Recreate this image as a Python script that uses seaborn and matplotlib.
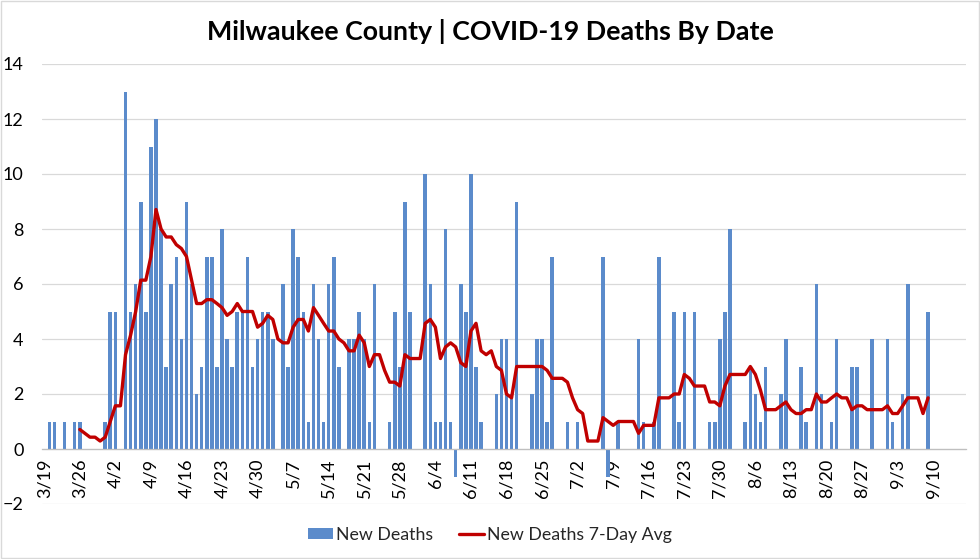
import numpy as np
import pandas as pd
import matplotlib
matplotlib.use("Agg")
import matplotlib.pyplot as plt
import seaborn as sns
from matplotlib.patches import Patch, Rectangle
from matplotlib.lines import Line2D

# ---------------- data (3/19 .. 9/9, one value per day) ----------------
tick_labels = ["3/19", "3/26", "4/2", "4/9", "4/16", "4/23", "4/30", "5/7",
               "5/14", "5/21", "5/28", "6/4", "6/11", "6/18", "6/25", "7/2",
               "7/9", "7/16", "7/23", "7/30", "8/6", "8/13", "8/20", "8/27",
               "9/3", "9/10"]

new_deaths = [
    0, 1, 1, 0, 1, 0, 1,
    1, 0, 0, 0, 0, 1, 5,
    5, 0, 13, 5, 6, 9, 5,
    11, 12, 8, 3, 6, 7, 4,
    9, 6, 2, 3, 7, 7, 3,
    8, 4, 3, 5, 5, 7, 3,
    4, 5, 5, 4, 0, 6, 3,
    8, 7, 5, 1, 6, 4, 1,
    6, 7, 3, 0, 4, 4, 5,
    4, 1, 6, 0, 0, 1, 5,
    3, 9, 5, 0, 0, 10, 6,
    1, 1, 8, 1, -1, 6, 5,
    10, 3, 1, 0, 0, 2, 4,
    4, 2, 9, 0, 0, 2, 4,
    4, 1, 7, 0, 0, 1, 0,
    1, 0, 0, 0, 0, 7, -1,
    0, 1, 0, 0, 0, 4, 1,
    0, 1, 7, 0, 0, 5, 1,
    5, 0, 5, 0, 0, 1, 1,
    4, 5, 8, 0, 0, 1, 3,
    2, 1, 3, 0, 0, 2, 4,
    0, 0, 3, 1, 0, 6, 2,
    0, 1, 4, 0, 0, 3, 3,
    0, 0, 4, 0, 0, 4, 1,
    0, 2, 6, 0, 0, 0, 5,
]

# 7-day average (starts 3/26)
avg_7day = [
    0.71, 0.57, 0.43, 0.43, 0.29, 0.43, 1.00, 1.57, 1.57, 3.43,
    4.14, 5.00, 6.14, 6.14, 7.00, 8.71, 8.00, 7.71, 7.71, 7.43,
    7.29, 7.00, 6.14, 5.29, 5.29, 5.43, 5.43, 5.29, 5.14, 4.86,
    5.00, 5.29, 5.00, 5.00, 5.00, 4.43, 4.57, 4.86, 4.71, 4.00,
    3.86, 3.86, 4.43, 4.71, 4.71, 4.29, 5.14, 4.86, 4.57, 4.29,
    4.29, 4.00, 3.86, 3.57, 3.57, 4.14, 3.86, 3.00, 3.43, 3.43,
    2.86, 2.43, 2.43, 2.29, 3.43, 3.29, 3.29, 3.29, 4.57, 4.71,
    4.43, 3.29, 3.71, 3.86, 3.71, 3.14, 3.00, 4.29, 4.57, 3.57,
    3.43, 3.57, 3.00, 2.86, 2.00, 1.86, 3.00, 3.00, 3.00, 3.00,
    3.00, 3.00, 2.86, 2.57, 2.57, 2.57, 2.43, 1.86, 1.43, 1.29,
    0.29, 0.29, 0.29, 1.14, 1.00, 0.86, 1.00, 1.00, 1.00, 1.00,
    0.57, 0.86, 0.86, 0.86, 1.86, 1.86, 1.86, 2.00, 2.00, 2.71,
    2.57, 2.29, 2.29, 2.29, 1.71, 1.71, 1.57, 2.29, 2.71, 2.71,
    2.71, 2.71, 3.00, 2.71, 2.14, 1.43, 1.43, 1.43, 1.57, 1.71,
    1.43, 1.29, 1.29, 1.43, 1.43, 2.00, 1.71, 1.71, 1.86, 2.00,
    1.86, 1.86, 1.43, 1.57, 1.57, 1.43, 1.43, 1.43, 1.43, 1.57,
    1.29, 1.29, 1.57, 1.86, 1.86, 1.86, 1.29, 1.86,
]

series_names = ["New Deaths", "New Deaths 7-Day Avg"]
title = "Milwaukee County | COVID-19 Deaths By Date"

# ---------------- styling ----------------
BAR = "#5B8BCB"
LINE = "#C00000"
GRID = "#D9D9D9"

sns.set_style("white")
plt.rcParams["font.family"] = ["Lato", "DejaVu Sans"]

n = len(new_deaths)
avg_full = [np.nan] * (n - len(avg_7day)) + avg_7day
df = pd.DataFrame({"day": np.arange(n), "deaths": new_deaths, "avg": avg_full})

W, H = 980, 559
fig = plt.figure(figsize=(W / 100, H / 100), dpi=100)
left, right, top, bottom = 41.7, 966.2, 64, 504
ax = fig.add_axes([left / W, 1 - bottom / H, (right - left) / W, (bottom - top) / H])

sns.barplot(data=df, x="day", y="deaths", native_scale=True, color=BAR,
            saturation=1, width=0.7, errorbar=None, linewidth=0, ax=ax, zorder=2)
sns.lineplot(data=df, x="day", y="avg", color=LINE, linewidth=2.4, ax=ax,
             zorder=3, legend=False)

ax.set_axisbelow(True)
ax.set_xlim(-0.5, 176.5)
ax.set_ylim(-2, 14)
ax.set_yticks(range(-2, 15, 2))
ax.yaxis.grid(True, color=GRID, linewidth=0.9)
ax.xaxis.grid(False)
for s in ["top", "right", "left"]:
    ax.spines[s].set_visible(False)
ax.spines["bottom"].set_position(("data", 0))
ax.spines["bottom"].set_color("#BFBFBF")
ax.spines["bottom"].set_linewidth(0.9)

ax.set_xticks(np.arange(0, 7 * len(tick_labels), 7))
ax.set_xticklabels(tick_labels, rotation=90)
ax.set_xticks(np.arange(-0.5, 7 * len(tick_labels), 7), minor=True)
ax.tick_params(axis="x", which="major", length=0, pad=7, labelsize=13, colors="#000000")
ax.tick_params(axis="x", which="minor", length=4, width=0.9, color="#BFBFBF", direction="out")
ax.tick_params(axis="y", length=0, pad=13, labelsize=13, colors="#000000")
ax.set_xlabel("")
ax.set_ylabel("")

fig.text(0.5, 1 - 32 / H, title, ha="center", va="center",
         fontsize=19.3, fontweight="bold", color="#000000")

handles = [Patch(facecolor=BAR, edgecolor="none"),
           Line2D([0], [0], color=LINE, linewidth=2.4)]
fig.legend(handles, series_names, loc="center", bbox_to_anchor=(0.5, 1 - 535 / H),
           ncol=2, frameon=False, fontsize=12.8, handlelength=1.4,
           handletextpad=0.15, columnspacing=1.5, handleheight=0.6)

fig.patches.append(Rectangle((0.0008, 0.0012), 0.9984, 0.9976, transform=fig.transFigure,
                             fill=False, edgecolor=GRID, linewidth=1))

fig.savefig("out.png", dpi=100)
